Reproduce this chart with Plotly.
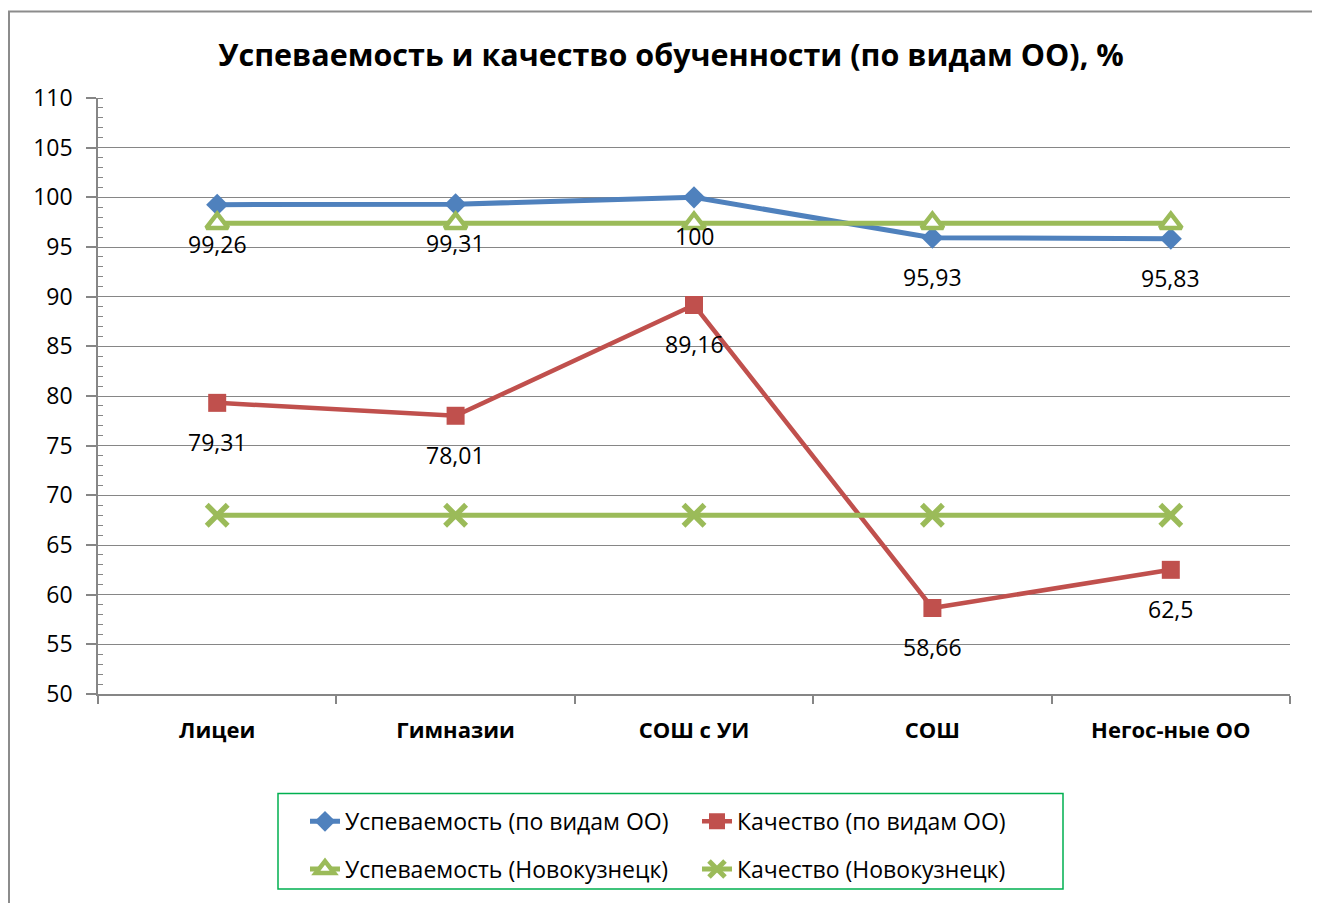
import plotly.graph_objects as go

categories = ["Лицеи", "Гимназии", "СОШ с УИ", "СОШ", "Негос-ные ОО"]
usp_vidy = [99.26, 99.31, 100, 95.93, 95.83]
kach_vidy = [79.31, 78.01, 89.16, 58.66, 62.5]
usp_nvkz = [97.4, 97.4, 97.4, 97.4, 97.4]
kach_nvkz = [68, 68, 68, 68, 68]
usp_labels = ["99,26", "99,31", "100", "95,93", "95,83"]
kach_labels = ["79,31", "78,01", "89,16", "58,66", "62,5"]
y_ticks = list(range(50, 111, 5))

OFF = 8  # page body margin
W, H = 1320 - OFF, 903 - OFF
# plot area in screen pixels: x 98..1290, y 98..697
ML = 98 - OFF
MT = 98 - OFF
MR = W - (1290 - OFF)
MB = H - (697 - OFF)
PW, PH = W - ML - MR, H - MT - MB

def px(x):
    return (x - OFF - ML) / PW

def py(y):
    return (H - MB - (y - OFF)) / PH

FONT = "Open Sans"
BLUE = "#4F81BD"
RED = "#C0504D"
GREEN = "#9BBB59"
GRID = "#868686"

fig = go.Figure()
fig.add_trace(go.Scatter(
    x=categories, y=usp_vidy, name="Успеваемость (по видам ОО)", mode="lines+markers",
    line=dict(color=BLUE, width=5), marker=dict(symbol="diamond", size=17, color=BLUE),
    legend="legend"))
fig.add_trace(go.Scatter(
    x=categories, y=kach_vidy, name="Качество (по видам ОО)", mode="lines+markers",
    line=dict(color=RED, width=4.5), marker=dict(symbol="square", size=18, color=RED),
    legend="legend2"))
fig.add_trace(go.Scatter(
    x=categories, y=usp_nvkz, name="Успеваемость (Новокузнецк)", mode="lines+markers",
    line=dict(color=GREEN, width=5),
    marker=dict(symbol="triangle-up", size=19, color="white", line=dict(color=GREEN, width=4.5)),
    legend="legend3"))
fig.add_trace(go.Scatter(
    x=categories, y=kach_nvkz, name="Качество (Новокузнецк)", mode="lines+markers",
    line=dict(color=GREEN, width=5),
    marker=dict(symbol="x-thin", size=21, color=GREEN, line=dict(color=GREEN, width=5.5)),
    legend="legend4"))

annotations = []
for c, v, t in zip(categories, usp_vidy, usp_labels):
    annotations.append(dict(x=c, y=v, text=t, showarrow=False, yshift=-39,
                            font=dict(family=FONT, size=23, color="black")))
for c, v, t in zip(categories, kach_vidy, kach_labels):
    annotations.append(dict(x=c, y=v, text=t, showarrow=False, yshift=-39,
                            font=dict(family=FONT, size=23, color="black")))

shapes = [
    dict(type="rect", xref="paper", yref="paper", x0=px(9), x1=px(1360), y0=py(11), y1=py(950),
         line=dict(color="#8C8C8C", width=2), fillcolor="rgba(0,0,0,0)", layer="below"),
    dict(type="rect", xref="paper", yref="paper", x0=px(278), x1=px(1063), y0=py(797), y1=py(893),
         line=dict(color="#00B050", width=1.5), fillcolor="rgba(0,0,0,0)"),
]

leg_common = dict(orientation="h", xanchor="left", yanchor="middle", bgcolor="rgba(0,0,0,0)",
                  borderwidth=0, font=dict(family=FONT, size=23, color="black"))

fig.update_layout(
    width=W, height=H,
    margin=dict(l=ML, r=MR, t=MT, b=MB),
    paper_bgcolor="white", plot_bgcolor="white",
    font=dict(family=FONT, color="black"),
    title=dict(text="<b>Успеваемость и качество обученности (по видам ОО), %</b>",
               x=px(671), xanchor="center", xref="paper", y=1 - (55 - OFF) / H, yanchor="middle",
               font=dict(family=FONT, size=30.5, color="black")),
    xaxis=dict(type="category", range=[-0.5, 4.5], showgrid=False, showline=True,
               linecolor=GRID, linewidth=1.5, ticks="outside", tickson="boundaries",
               ticklen=8, tickcolor=GRID, tickwidth=1.5,
               tickfont=dict(family=FONT, size=22, color="black"),
               tickvals=categories, ticktext=["<b>%s</b>" % c for c in categories],
               ticklabelstandoff=16),
    yaxis=dict(range=[50, 110], tickvals=y_ticks, showgrid=True, gridcolor=GRID, gridwidth=1.3,
               showline=True, linecolor=GRID, linewidth=1.5, ticks="outside", ticklen=10,
               tickcolor=GRID, tickwidth=1.5, zeroline=False,
               minor=dict(ticks="inside", ticklen=5, dtick=1, tickcolor=GRID, tickwidth=1.3,
                          showgrid=False),
               tickfont=dict(family=FONT, size=23, color="black"), ticklabelstandoff=9),
    showlegend=True,
    legend=dict(x=px(305), y=py(825), **leg_common),
    legend2=dict(x=px(697), y=py(825), **leg_common),
    legend3=dict(x=px(305), y=py(873), **leg_common),
    legend4=dict(x=px(697), y=py(873), **leg_common),
    annotations=annotations,
    shapes=shapes,
)

fig.write_html("out.html")
